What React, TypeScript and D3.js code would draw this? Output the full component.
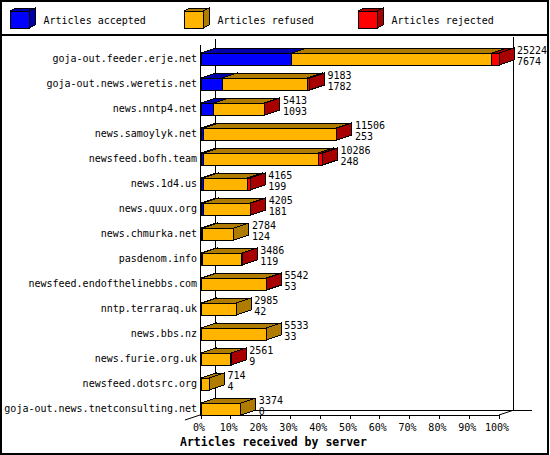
import React from 'react';
import * as d3 from 'd3';

const servers = [
  'goja-out.feeder.erje.net',
  'goja-out.news.weretis.net',
  'news.nntp4.net',
  'news.samoylyk.net',
  'newsfeed.bofh.team',
  'news.1d4.us',
  'news.quux.org',
  'news.chmurka.net',
  'pasdenom.info',
  'newsfeed.endofthelinebbs.com',
  'nntp.terraraq.uk',
  'news.bbs.nz',
  'news.furie.org.uk',
  'newsfeed.dotsrc.org',
  'goja-out.news.tnetconsulting.net',
];
const offered = [25224, 9183, 5413, 11506, 10286, 4165, 4205, 2784, 3486, 5542, 2985, 5533, 2561, 714, 3374];
const accepted = [7674, 1782, 1093, 253, 248, 199, 181, 124, 119, 53, 42, 33, 9, 4, 0];
const rejected = [600, 180, 60, 50, 370, 250, 40, 0, 30, 30, 0, 0, 30, 0, 0];
const pctTicks = [0, 10, 20, 30, 40, 50, 60, 70, 80, 90, 100];

const legendItems = ['Articles accepted', 'Articles refused', 'Articles rejected'];
const faceColors = ['#0000ff', '#ffb400', '#ff0000'];
const sideColors = ['#0000a8', '#b07c00', '#a80000'];

const W = 550;
const H = 455;
const DX = 15; // depth
const DY = 5;
const BAR_H = 12;
const FONT = '"DejaVu Sans Mono", "Liberation Mono", monospace';

const App: React.FC = () => {
  const maxVal = d3.max(offered)!;
  const x = d3.scaleLinear().domain([0, maxVal]).range([201, 499]);
  const xPct = d3.scaleLinear().domain([0, 100]).range([201, 499]);
  const y = d3.scalePoint<string>().domain(servers).range([53, 403]);

  // one 3D segment: top, right side, front
  const box = (x0: number, x1: number, top: number, i: number, key: string) => {
    const front = `M${x0},${top}H${x1}V${top + BAR_H}H${x0}Z`;
    const topFace = `M${x0},${top}L${x0 + DX},${top - DY}H${x1 + DX}L${x1},${top}Z`;
    const side = `M${x1},${top}L${x1 + DX},${top - DY}V${top + BAR_H - DY}L${x1},${top + BAR_H}Z`;
    return (
      <g key={key} stroke="#000" strokeWidth={1} strokeLinejoin="miter">
        <path d={topFace} fill={sideColors[i]} />
        <path d={side} fill={sideColors[i]} />
        <path d={front} fill={faceColors[i]} />
      </g>
    );
  };

  return (
    <svg
      width={W}
      height={H}
      style={{ position: 'absolute', left: 0, top: 0, background: '#fff' }}
      shapeRendering="crispEdges"
    >
      <rect x={0} y={0} width={W} height={H} fill="#fff" />
      <rect x={1} y={1} width={547} height={453} fill="none" stroke="#000" strokeWidth={2} />
      <line x1={1} x2={548} y1={35} y2={35} stroke="#000" strokeWidth={2} />

      {/* legend */}
      {legendItems.map((t, i) => {
        const lx = 10 + i * 174;
        return (
          <g key={t}>
            <g stroke="#000" strokeWidth={1}>
              <path d={`M${lx},11L${lx + 6},8H${lx + 25}L${lx + 19},11Z`} fill={sideColors[i]} />
              <path d={`M${lx + 19},11L${lx + 25},8V${25}L${lx + 19},28Z`} fill={sideColors[i]} />
              <rect x={lx} y={11} width={19} height={17} fill={faceColors[i]} />
            </g>
            <text x={lx + 33.5} y={24} fontFamily={FONT} fontSize={10} fill="#000">{t}</text>
          </g>
        );
      })}

      {/* frame */}
      <g stroke="#000" strokeWidth={1}>
        <line x1={200.5} x2={200.5} y1={45} y2={415} />
        <line x1={215.5} x2={215.5} y1={39} y2={410} />
        <line x1={513.5} x2={513.5} y1={37} y2={410} />
        <line x1={215} x2={532} y1={410.5} y2={410.5} />
        <line x1={200} x2={499} y1={415.5} y2={415.5} />
        <line x1={185} x2={200} y1={420} y2={415} shapeRendering="auto" />
        <line x1={499} x2={514} y1={415} y2={410} shapeRendering="auto" />
      </g>

      {/* bars */}
      {servers.map((s, r) => {
        const top = y(s)!;
        const vals = [accepted[r], offered[r] - accepted[r] - rejected[r], rejected[r]];
        let acc = 0;
        const boxes = vals.map((v, i) => {
          if (v <= 0) return null;
          const x0 = x(acc);
          acc += v;
          const x1 = x(acc);
          return box(x0, x1, top, i, `${s}-${i}`);
        });
        const end = x(offered[r]) + DX + 3;
        return (
          <g key={s}>
            {boxes}
            <text x={197} y={top + 9} textAnchor="end" fontFamily={FONT} fontSize={10} fill="#000">{s}</text>
            <text x={end} y={top + 0.5} fontFamily={FONT} fontSize={10} fill="#000">{offered[r]}</text>
            <text x={end} y={top + 11.5} fontFamily={FONT} fontSize={10} fill="#000">{accepted[r]}</text>
          </g>
        );
      })}

      {/* x axis */}
      {pctTicks.map(p => (
        <g key={p}>
          <line x1={xPct(p)} x2={xPct(p)} y1={415} y2={419} stroke="#000" strokeWidth={1} />
          <text x={xPct(p) - 2} y={431} textAnchor="middle" fontFamily={FONT} fontSize={10} fill="#000">{`${p}%`}</text>
        </g>
      ))}
      <text x={180} y={446} fontFamily={FONT} fontSize={11.5} fontWeight="bold" fill="#000">
        Articles received by server
      </text>
    </svg>
  );
};

export default App;
